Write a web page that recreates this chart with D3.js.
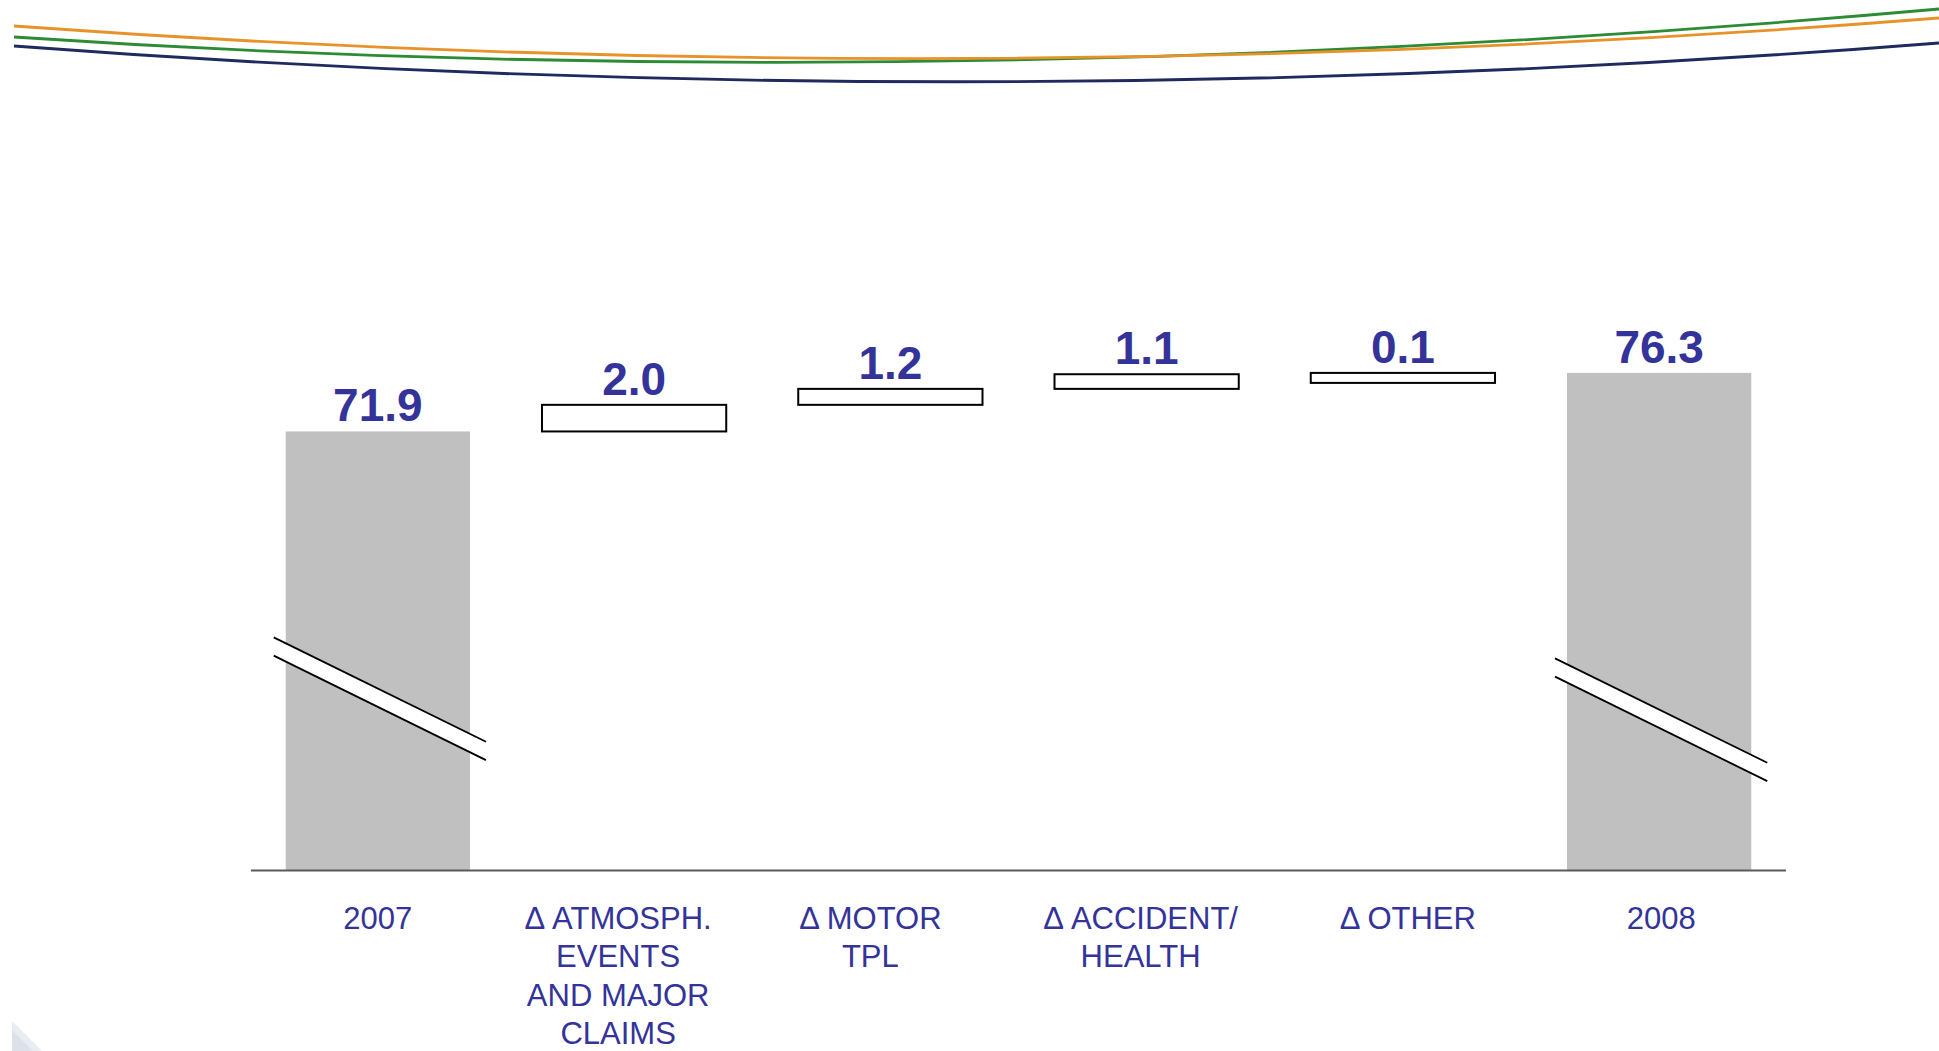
<!DOCTYPE html>
<html><head><meta charset="utf-8">
<script src="https://cdn.jsdelivr.net/npm/d3@7"></script>
<style>html,body{margin:0;padding:0;background:#fff;} svg{display:block;}</style>
</head><body>
<script>
// ---- data ----
const categories = ["2007", "ATMOSPH", "MOTOR", "ACCIDENT", "OTHER", "2008"];
const categoryLabels = [
  ["2007"],
  ["Δ ATMOSPH.", "EVENTS", "AND MAJOR", "CLAIMS"],
  ["Δ MOTOR", "TPL"],
  ["Δ ACCIDENT/", "HEALTH"],
  ["Δ OTHER"],
  ["2008"]
];
const values = [71.9, 2.0, 1.2, 1.1, 0.1, 76.3];
const barKinds = ["total", "delta", "delta", "delta", "delta", "total"];

// ---- layout ----
const W = 1939, H = 1051;
const baseY = 870.6, topY = 372.9;
const axisFloor = 38.9;          // value at the (broken) baseline
const plotLeft = 251, plotRight = 1786;
const labelColor = "#333399";
const labelDx = [0, -16, -20, -6, 5, 2];   // text box nudges as in the slide
const breakAbove = [182, 161];             // break position above baseline (px) for the two totals
const minBoxH = 10;

const svg = d3.select("body").append("svg").attr("width", W).attr("height", H);

// decorative header arcs
const arcs = [
  {color: "#1F2A5E", p0: [14, 46], c: [975, 119], p1: [1939, 43], w: 2.8},
  {color: "#2E8B35", p0: [14, 37], c: [930, 99], p1: [1939, 9], w: 2.8},
  {color: "#E8922A", p0: [14, 26], c: [960, 95], p1: [1939, 18], w: 2.8}
];
arcs.forEach(a => {
  const p = d3.path();
  p.moveTo(a.p0[0], a.p0[1]);
  p.quadraticCurveTo(a.c[0], a.c[1], a.p1[0], a.p1[1]);
  svg.append("path").attr("d", p.toString()).attr("fill", "none")
    .attr("stroke", a.color).attr("stroke-width", a.w);
});

// faint corner decoration
svg.append("path").attr("d", "M12,1021 L42,1051 L12,1051 Z").attr("fill", "#e9ecf1");
svg.append("path").attr("d", "M12,1030 L33,1051 L12,1051 Z").attr("fill", "#dde2ea");

// scales
const x = d3.scaleBand().domain(categories).range([plotLeft, plotRight])
  .paddingInner(0.281).paddingOuter(0.1355);
const y = d3.scaleLinear().domain([axisFloor, d3.max(values)]).range([baseY, topY]);

// waterfall records
let run = 0;
const recs = categories.map((c, i) => {
  let lo, hi;
  if (barKinds[i] === "total") { lo = axisFloor; hi = values[i]; run = values[i]; }
  else { lo = run; hi = run + values[i]; run = hi; }
  return {cat: c, i, kind: barKinds[i], lo, hi, v: values[i]};
});

const g = svg.append("g");

// total bars
g.selectAll("rect.total").data(recs.filter(d => d.kind === "total")).join("rect")
  .attr("class", "total")
  .attr("x", d => x(d.cat)).attr("width", x.bandwidth())
  .attr("y", d => y(d.hi)).attr("height", d => y(d.lo) - y(d.hi))
  .attr("fill", "#C0C0C0");

// delta boxes
g.selectAll("rect.delta").data(recs.filter(d => d.kind === "delta")).join("rect")
  .attr("class", "delta")
  .attr("x", d => x(d.cat)).attr("width", x.bandwidth())
  .attr("y", d => y(d.hi)).attr("height", d => Math.max(minBoxH, y(d.lo) - y(d.hi)))
  .attr("fill", "#fff").attr("stroke", "#000").attr("stroke-width", 2);

// axis breaks
const slope = 0.492, gap = 18.3, extL = 12, extR = 16;
recs.filter(d => d.kind === "total").forEach((d, k) => {
  const x0 = x(d.cat) - extL, x1 = x(d.cat) + x.bandwidth() + extR;
  const cx = x(d.cat) + x.bandwidth() / 2;
  const yc = baseY - breakAbove[k];
  const yAt = xx => yc + (xx - cx) * slope;
  g.append("path")
    .attr("d", `M${x0},${yAt(x0)} L${x1},${yAt(x1)} L${x1},${yAt(x1) + gap} L${x0},${yAt(x0) + gap} Z`)
    .attr("fill", "#fff");
  [0, gap].forEach(o => {
    g.append("line").attr("x1", x0).attr("y1", yAt(x0) + o).attr("x2", x1).attr("y2", yAt(x1) + o)
      .attr("stroke", "#000").attr("stroke-width", 1.8);
  });
});

// baseline
g.append("line").attr("x1", plotLeft).attr("x2", plotRight).attr("y1", baseY).attr("y2", baseY)
  .attr("stroke", "#5a5a5a").attr("stroke-width", 2);

// value labels
const fmt = d3.format(".1f");
g.selectAll("text.val").data(recs).join("text")
  .attr("class", "val")
  .attr("x", d => x(d.cat) + x.bandwidth() / 2)
  .attr("y", d => y(d.hi) - 10)
  .attr("text-anchor", "middle")
  .attr("font-family", "'Liberation Sans', Arial, sans-serif")
  .attr("font-weight", "bold").attr("font-size", 46)
  .attr("fill", labelColor)
  .text(d => fmt(d.v));

// category labels
const cl = g.selectAll("text.cat").data(recs).join("text")
  .attr("class", "cat")
  .attr("text-anchor", "middle")
  .attr("font-family", "'Liberation Sans', Arial, sans-serif")
  .attr("font-size", 31)
  .attr("fill", labelColor);
cl.each(function(d) {
  const t = d3.select(this);
  const cx = x(d.cat) + x.bandwidth() / 2 + labelDx[d.i];
  categoryLabels[d.i].forEach((line, j) => {
    t.append("tspan").attr("x", cx).attr("y", baseY + 58 + j * 38.6).text(line);
  });
});
</script>
</body></html>
